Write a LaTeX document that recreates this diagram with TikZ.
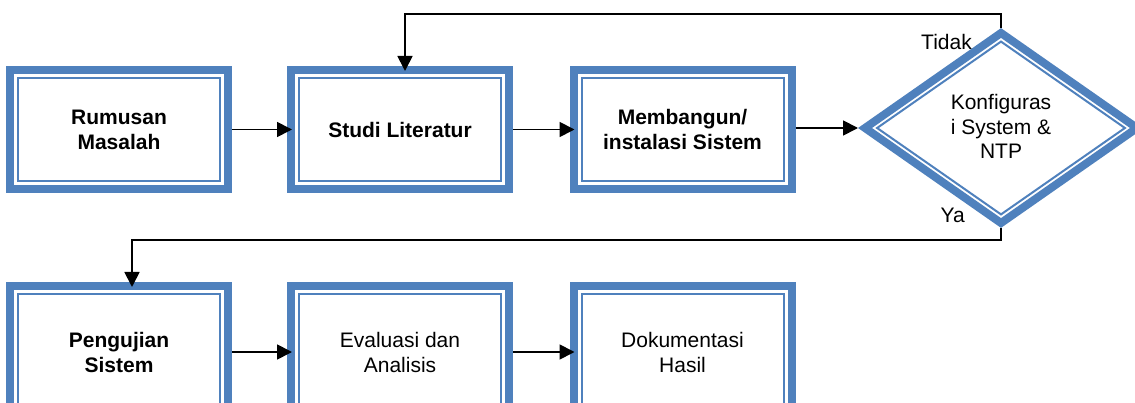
\documentclass[tikz,border=0pt]{standalone}
\usepackage{fontspec}
\setmainfont{Liberation Sans}
\usetikzlibrary{arrows.meta,calc}
\definecolor{bl}{HTML}{4F81BD}
\begin{document}
\begin{tikzpicture}[x=1pt,y=-1pt,
  box/.style={draw=bl, line width=8pt, minimum width=218pt, minimum height=119pt,
    inner sep=0pt, align=center, font=\fontsize{21}{25}\selectfont,
    path picture={\draw[bl,line width=2pt]
      ([shift={(8pt,-8pt)}]path picture bounding box.north west) rectangle
      ([shift={(-8pt,8pt)}]path picture bounding box.south east);}},
  tall/.style={minimum height=132pt},
  bold/.style={font=\fontsize{21}{25}\selectfont\bfseries},
  txt/.style={inner sep=0pt, align=center, font=\fontsize{21}{24.5}\selectfont},
  lbl/.style={inner sep=0pt, font=\fontsize{21}{25}\selectfont},
  arr/.style={-{Triangle[length=15pt,width=15pt]}, line width=1.8pt, shorten >=-5pt},
  thickd/.style={draw=bl, line width=8pt, line join=miter},
  thind/.style={draw=bl, line width=2pt, line join=miter}]
\clip (0,0) rectangle (1135,403);
\fill[white] (0,0) rectangle (1135,403);

\coordinate (dtop) at (1001,28);
\coordinate (dbot) at (1001,228);
\coordinate (dleft) at (858,128);

% top row
\node[box,bold] (A) at (119,129.5) {Rumusan\\Masalah};
\node[box,bold] (B) at (400,129.5) {Studi Literatur};
\node[box,bold] (C) at (682.5,129.5) {Membangun/\\instalasi Sistem};

% bottom row
\node[box,tall,bold] (D) at (119,352) {Pengujian\\Sistem};
\node[box,tall] (E) at (400,352) {Evaluasi dan\\Analisis};
\node[box,tall] (F) at (682.5,352) {Dokumentasi\\Hasil};

% decision diamond
\draw[thickd] (1001,33) -- (1137,128) -- (1001,223) -- (865,128) -- cycle;
\draw[thind] (1001,41.6) -- (1124.9,128) -- (1001,214.4) -- (877.1,128) -- cycle;
\node[txt] (dec) at (1001,126.5) {Konfiguras\\i System \&\\NTP};

% connectors
\draw[arr] (A.east) -- (B.west);
\draw[arr] (B.east) -- (C.west);
\draw[arr, shorten >=0pt] (dleft -| C.east) -- (dleft);
\draw[arr] (dtop) -- ++(0,-14) -| ([xshift=5pt]B.north);
\draw[arr] (dbot) -- ++(0,12) -| ([xshift=13pt]D.north);
\draw[arr] (D.east) -- (E.west);
\draw[arr] (E.east) -- (F.west);

% labels
\node[lbl, anchor=base east] (tidak) at (972,50) {Tidak};
\node[lbl, anchor=base east] (ya) at (965,223) {Ya};
\end{tikzpicture}
\end{document}
